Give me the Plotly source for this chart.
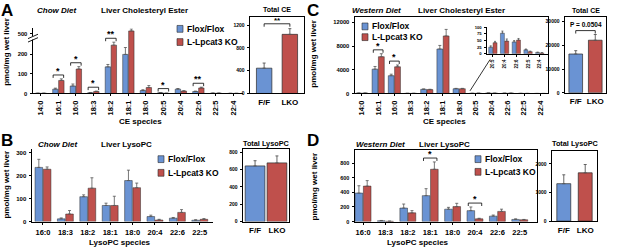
import plotly.graph_objects as go

W, H = 617, 250
FONT = "Liberation Sans"
BLUE = "#6a93d3"
RED = "#bf504c"
EDGE = "#2a2a2a"
ERRC = "#555555"

# ---------------- data ----------------
ce_species = ["14:0", "16:1", "16:0", "18:3", "18:2", "18:1", "18:0", "20:5", "20:4", "22:6", "22:5", "22:4"]
lpc_species = ["16:0", "18:3", "18:2", "18:1", "18:0", "20:4", "22:6", "22:5"]
total_groups = ["F/F", "LKO"]
legend_labels = ["Flox/Flox", "L-Lpcat3 KO"]

# A: chow diet, liver cholesteryl ester (pmol/mg)
a_flox = [1, 22, 38, 4, 135, 198, 15, 4, 22, 10, 1.5, 0.5]
a_flox_err = [0.5, 5, 10, 1, 12, 35, 4, 1, 3, 2, 0.5, 0.3]
a_lko = [1, 66, 124, 10, 245, 515, 30, 1, 12, 28, 1.5, 0.5]
a_lko_err = [0.5, 8, 12, 2, 15, 10, 10, 0.5, 2, 4, 0.5, 0.3]
a_sig = {"16:1": "*", "16:0": "*", "18:3": "*", "18:2": "**", "18:1": "**", "20:5": "*", "22:6": "**"}
a_total = [445, 1040]
a_total_err = [90, 100]
a_total_sig = "**"
a_yticks = [0, 100, 200, 500]

# B: chow diet, liver LysoPC
b_flox = [235, 12, 108, 70, 178, 22, 15, 6]
b_flox_err = [35, 4, 8, 10, 45, 6, 3, 2]
b_lko = [227, 33, 145, 70, 147, 7, 40, 10]
b_lko_err = [10, 15, 45, 40, 20, 3, 12, 3]
b_total = [640, 675]
b_total_err = [60, 80]

# C: western diet, liver cholesteryl ester
c_flox = [60, 4100, 3000, 20, 700, 7500, 800, 25, 78, 45, 15, 5]
c_flox_err = [20, 450, 250, 5, 60, 600, 60, 5, 8, 5, 3, 1]
c_lko = [60, 6200, 4500, 20, 650, 9700, 800, 42, 48, 52, 8, 3]
c_lko_err = [20, 500, 300, 5, 60, 1100, 60, 5, 8, 6, 2, 1]
c_sig = {"16:1": "*", "16:0": "*"}
c_inset_species = ["20:5", "20:4", "22:6", "22:5", "22:4"]
c_total = [16300, 22100]
c_total_err = [1400, 2400]
c_total_sig = "P = 0.0504"

# D: western diet, liver LysoPC
d_flox = [390, 12, 185, 355, 170, 150, 75, 30]
d_flox_err = [100, 4, 55, 95, 25, 50, 15, 8]
d_lko = [485, 5, 120, 715, 205, 38, 140, 25]
d_lko_err = [75, 2, 30, 100, 45, 8, 30, 5]
d_sig = {"18:1": "*", "20:4": "*"}
d_total = [1310, 1690]
d_total_err = [310, 290]

# broken y axis in panel A: 0..280 linear, 500 region shifted down
BREAK_LO, BREAK_HI = 280, 478


def a_disp(v):
    return v if v <= BREAK_LO else v - (BREAK_HI - BREAK_LO)


def fx(p):
    return p / W


def fy(p):
    return 1 - p / H


fig = go.Figure()
geom = {}


def names(n):
    return ("x" if n == 1 else f"x{n}"), ("y" if n == 1 else f"y{n}")


def setup_axes(n, xpx, ypx, xr, yr, cats, ytickvals, yticktext, xangle=0, xsize=7.5, ysize=6,
               mirror=False, xticks=True):
    xa, ya = names(n)
    geom[n] = dict(xpx=xpx, ypx=ypx, xr=xr, yr=yr)
    tf = dict(family=FONT, size=xsize, color="black", weight="bold")
    yf = dict(family=FONT, size=ysize, color="black", weight="bold")
    xkey = "xaxis" if n == 1 else f"xaxis{n}"
    ykey = "yaxis" if n == 1 else f"yaxis{n}"
    fig.update_layout(**{
        xkey: dict(domain=[fx(xpx[0]), fx(xpx[1])], range=xr, anchor=ya,
                   tickvals=list(range(len(cats))), ticktext=cats, tickangle=xangle,
                   tickfont=tf, showline=True, linecolor="black", linewidth=1,
                   ticks="outside" if xticks else "", ticklen=2, tickcolor="black",
                   showgrid=False, zeroline=False, mirror=mirror, fixedrange=True, ticklabelstandoff=1),
        ykey: dict(domain=[fy(ypx[1]), fy(ypx[0])], range=yr, anchor=xa,
                   tickvals=ytickvals, ticktext=yticktext, tickfont=yf,
                   showline=True, linecolor="black", linewidth=1,
                   ticks="outside", ticklen=2.5, tickcolor="black",
                   showgrid=False, zeroline=False, mirror=mirror, fixedrange=True, ticklabelstandoff=1),
    })


def bar_pair(n, cats, flox, flox_err, lko, lko_err, w, disp=None, errw=1.5, lw=0.5):
    xa, ya = names(n)
    xs = list(range(len(cats)))
    for vals, errs, col, off in ((flox, flox_err, BLUE, -w - 0.015), (lko, lko_err, RED, 0.015)):
        if disp:
            y = [disp(v) for v in vals]
            e = [disp(v + er) - disp(v) for v, er in zip(vals, errs)]
        else:
            y, e = list(vals), list(errs)
        fig.add_trace(go.Bar(
            x=xs, y=y, width=w, offset=off, xaxis=xa, yaxis=ya,
            marker=dict(color=col, line=dict(color=EDGE, width=lw)),
            error_y=dict(type="data", symmetric=False, array=e, arrayminus=[0] * len(e),
                         color=ERRC, thickness=0.8, width=errw),
            showlegend=False, hoverinfo="skip"))


def total_bars(n, vals, errs, w):
    xa, ya = names(n)
    fig.add_trace(go.Bar(
        x=list(range(len(vals))), y=vals, width=w, xaxis=xa, yaxis=ya,
        marker=dict(color=[BLUE, RED], line=dict(color=EDGE, width=0.7)),
        error_y=dict(type="data", symmetric=False, array=errs, arrayminus=[0] * len(errs),
                     color=ERRC, thickness=0.9, width=1.5),
        showlegend=False, hoverinfo="skip"))


def ppu(n):
    g = geom[n]
    return (g["ypx"][1] - g["ypx"][0]) / (g["yr"][1] - g["yr"][0])


def bracket(n, x0, x1, y, text, size=9, leg_px=3, ty=0):
    xa, ya = names(n)
    leg = leg_px / ppu(n)
    fig.add_shape(type="path", xref=xa, yref=ya,
                  path=f"M {x0} {y - leg} L {x0} {y} L {x1} {y} L {x1} {y - leg}",
                  line=dict(color="black", width=0.8))
    fig.add_annotation(x=(x0 + x1) / 2, y=y, xref=xa, yref=ya, text=f"<b>{text}</b>",
                       showarrow=False, yanchor="bottom", yshift=ty,
                       font=dict(family=FONT, size=size, color="black"))


def text(x, y, s, size=8, angle=0, xanchor="center", italic=False):
    t = f"<b><i>{s}</i></b>" if italic else f"<b>{s}</b>"
    fig.add_annotation(x=fx(x), y=fy(y), xref="paper", yref="paper", text=t, showarrow=False,
                       textangle=angle, xanchor=xanchor, yanchor="middle",
                       font=dict(family=FONT, size=size, color="black"))


def legend(x, y1, y2):
    for yy, col, lab in ((y1, BLUE, legend_labels[0]), (y2, RED, legend_labels[1])):
        fig.add_shape(type="rect", xref="paper", yref="paper",
                      x0=fx(x), x1=fx(x + 6), y0=fy(yy + 3.5), y1=fy(yy - 3.5),
                      fillcolor=col, line=dict(color=EDGE, width=0.6))
        text(x + 8, yy, lab, size=8.5, xanchor="left")


# ---------------- panel A ----------------
setup_axes(1, (33, 243), (26, 92.7), [-0.45, 11.55], [0, 330], ce_species,
           [a_disp(v) for v in a_yticks], [str(v) for v in a_yticks], xangle=-90, xsize=7.5, ysize=5.8)
bar_pair(1, ce_species, a_flox, a_flox_err, a_lko, a_lko_err, 0.31, disp=a_disp)
for cat, s in a_sig.items():
    i = ce_species.index(cat)
    top = max(a_disp(a_flox[i] + a_flox_err[i]), a_disp(a_lko[i] + a_lko_err[i]))
    bracket(1, i - 0.3, i + 0.3, top + 4 / ppu(1), s, size=9, ty=-3)
# axis break marks
fig.add_shape(type="rect", xref="paper", yref="paper", x0=fx(29), x1=fx(37), y0=fy(37.5), y1=fy(34),
              fillcolor="white", line=dict(width=0), layer="above")
for yy in (35, 38.5):
    fig.add_shape(type="line", xref="paper", yref="paper", x0=fx(28), x1=fx(38), y0=fy(yy + 1.5), y1=fy(yy - 3),
                  line=dict(color="black", width=0.9))

setup_axes(2, (250, 304), (14, 92.7), [-0.55, 1.55], [0, 1351], total_groups,
           [0, 400, 800, 1200], ["0", "400", "800", "1200"], xsize=8, ysize=5, mirror=True, xticks=False)
total_bars(2, a_total, a_total_err, 0.6)
bracket(2, 0, 1, max(v + e for v, e in zip(a_total, a_total_err)) + 5 / ppu(2), a_total_sig, size=8, ty=-3)

# ---------------- panel B ----------------
setup_axes(6, (32, 213), (150, 224), [-0.49, 7.59], [0, 313], lpc_species,
           [0, 100, 200, 300], ["0", "100", "200", "300"], xsize=7.5, ysize=6)
bar_pair(6, lpc_species, b_flox, b_flox_err, b_lko, b_lko_err, 0.34)
setup_axes(7, (243, 289), (150, 224), [-0.55, 1.55], [0, 830], total_groups,
           [0, 200, 400, 600, 800], ["0", "200", "400", "600", "800"], xsize=8, ysize=5, mirror=True, xticks=False)
total_bars(7, b_total, b_total_err, 0.9)

# ---------------- panel C ----------------
setup_axes(3, (355, 548), (14, 92.7), [-0.43, 11.48], [0, 12950], ce_species,
           [0, 4000, 8000, 12000], ["0", "4000", "8000", "12000"], xangle=-90, xsize=7.5, ysize=5.8, mirror=True)
bar_pair(3, ce_species, c_flox, c_flox_err, c_lko, c_lko_err, 0.36)
for cat, s in c_sig.items():
    i = ce_species.index(cat)
    top = max(c_flox[i] + c_flox_err[i], c_lko[i] + c_lko_err[i])
    bracket(3, i - 0.3, i + 0.3, top + 4 / ppu(3), s, size=9, ty=-3)

# inset: low-abundance species
i0 = ce_species.index(c_inset_species[0])
setup_axes(4, (487, 548), (25, 52), [-0.5, 4.7], [0, 100], c_inset_species,
           [0, 25, 50, 75, 100], ["0", "25", "50", "75", "100"], xangle=-90, xsize=4.5, ysize=4.2)
bar_pair(4, c_inset_species, c_flox[i0:], c_flox_err[i0:], c_lko[i0:], c_lko_err[i0:], 0.34, errw=1, lw=0.4)
fig.add_shape(type="line", xref="paper", yref="paper", x0=fx(470), y0=fy(90), x1=fx(490), y1=fy(58),
              line=dict(color="black", width=0.8))

setup_axes(5, (565, 606), (14, 92), [-0.55, 1.55], [0, 32000], total_groups,
           [0, 10000, 20000, 30000], ["0", "10000", "20000", "30000"], xsize=8, ysize=5, mirror=True, xticks=False)
total_bars(5, c_total, c_total_err, 0.7)
bracket(5, 0, 1, max(v + e for v, e in zip(c_total, c_total_err)) + 4 / ppu(5), c_total_sig, size=6.5, ty=1)

# ---------------- panel D ----------------
setup_axes(8, (355, 537), (151, 224), [-0.36, 7.77], [0, 973], lpc_species,
           [0, 200, 400, 600, 800], ["0", "200", "400", "600", "800"], xsize=7.5, ysize=5.5, mirror=True)
bar_pair(8, lpc_species, d_flox, d_flox_err, d_lko, d_lko_err, 0.34)
for cat, s in d_sig.items():
    i = lpc_species.index(cat)
    top = max(d_flox[i] + d_flox_err[i], d_lko[i] + d_lko_err[i])
    bracket(8, i - 0.3, i + 0.3, top + 4 / ppu(8), s, size=9, ty=-3)
setup_axes(9, (552, 597), (152, 223.5), [-0.55, 1.55], [0, 2440], total_groups,
           [0, 1000, 2000], ["0", "1000", "2000"], xsize=8, ysize=5, mirror=True, xticks=False)
total_bars(9, d_total, d_total_err, 0.65)

# ---------------- texts ----------------
for lab, x, y in (("A", 7, 8), ("B", 7, 141), ("C", 313, 8), ("D", 313, 141)):
    text(x, y, lab, size=17)
text(56, 8, "Chow Diet", italic=True)
text(144, 8, "Liver Cholesteryl Ester")
text(277, 7, "Total CE", size=7)
text(57, 145, "Chow Diet", italic=True)
text(126, 145, "Liver LysoPC")
text(266, 144, "Total LysoPC", size=7.3)
text(376, 8, "Western Diet", italic=True)
text(461, 8, "Liver Cholesteryl Ester")
text(586, 8, "Total CE", size=7)
text(380, 145, "Western Diet", italic=True)
text(445, 145, "Liver LysoPC")
text(575, 144, "Total LysoPC", size=7.3)
text(140, 121, "CE species")
text(444, 121, "CE species")
text(120, 245, "LysoPC species")
text(418, 245, "LysoPC species")
for x, y in ((7, 50), (7, 186), (314, 52), (314, 188)):
    text(x, y, "pmol/mg wet liver", size=8, angle=-90)

legend(177, 26.5, 40)
legend(158, 160, 174)
legend(362, 24, 35)
legend(475, 160, 173)

fig.update_layout(width=W, height=H, margin=dict(l=0, r=0, t=0, b=0), autosize=False,
                  barmode="overlay", plot_bgcolor="white", paper_bgcolor="white",
                  font=dict(family=FONT, color="black"))
fig.write_html("out.html", config={"displayModeBar": False},
               post_script="document.body.style.margin='0';document.body.style.padding='0';")
